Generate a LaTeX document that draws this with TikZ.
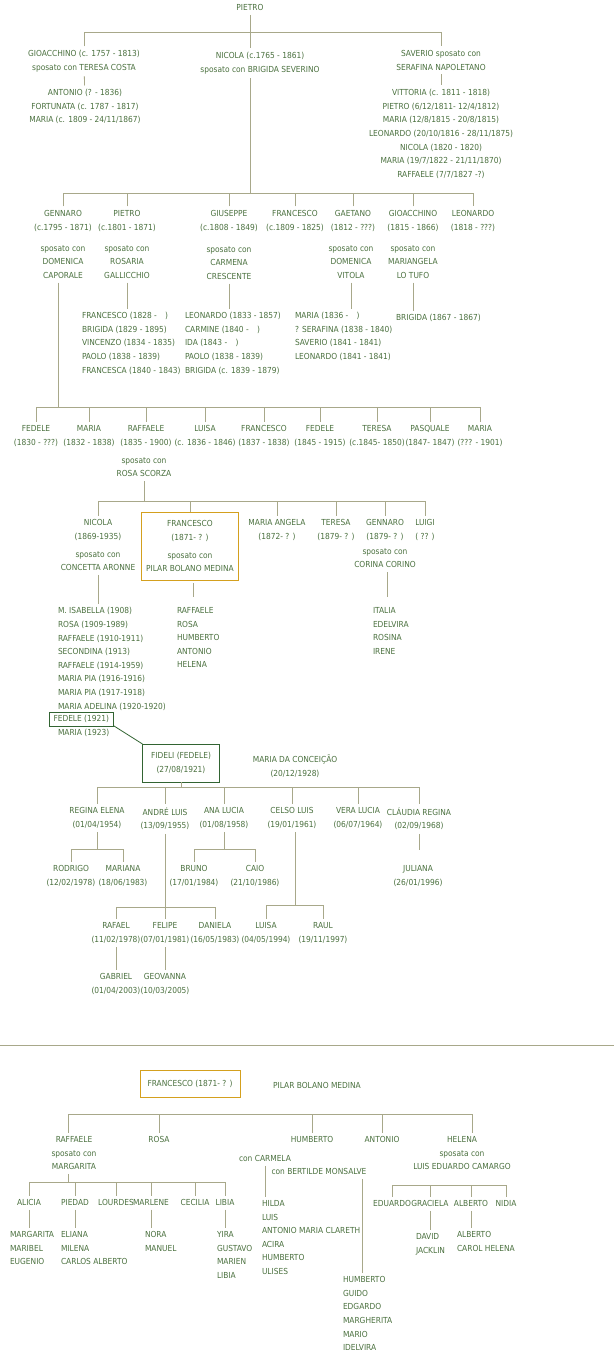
\documentclass[tikz,border=0pt]{standalone}
\usepackage{fontspec}
\setmainfont{DejaVu Sans Condensed}
\definecolor{inkgreen}{RGB}{74,112,62}
\definecolor{linkgrey}{RGB}{168,168,138}
\definecolor{goldbox}{RGB}{212,160,30}
\definecolor{darkbox}{RGB}{50,100,50}
\tikzset{
  txt/.style={align=center, inner sep=0pt, outer sep=4pt, text=inkgreen, font=\fontsize{8.3}{13.6}\selectfont},
  person/.style={txt, anchor=north, yshift=7.5pt},
  kids/.style={person, anchor=north west, align=left},
  link/.style={draw=linkgrey, line width=0.8pt}
}
\begin{document}
\begin{tikzpicture}[x=1pt,y=-1pt]
\useasboundingbox (0,0) rectangle (614,1356);
% first generations
\node[person] (pietro) at (250,8) {PIETRO};
\node[person] (gioacchino) at (84,54) {GIOACCHINO (c. 1757 - 1813)\\sposato con TERESA COSTA};
\node[person] (nicola) at (260,56) {NICOLA (c.1765 - 1861)\\sposato con BRIGIDA SEVERINO};
\node[person] (saverio) at (441,54) {SAVERIO sposato con\\SERAFINA NAPOLETANO};
\node[person] (gioacchinoKids) at (85,93) {ANTONIO (? - 1836)\\FORTUNATA (c. 1787 - 1817)\\MARIA (c. 1809 - 24/11/1867)};
\node[person] (saverioKids) at (441,93) {VITTORIA (c. 1811 - 1818)\\PIETRO (6/12/1811- 12/4/1812)\\MARIA (12/8/1815 - 20/8/1815)\\LEONARDO (20/10/1816 - 28/11/1875)\\NICOLA (1820 - 1820)\\MARIA (19/7/1822 - 21/11/1870)\\RAFFAELE (7/7/1827 -?)};
\draw[link] (pietro) -- (pietro|-0,32);
\draw[link] (gioacchino) -- (gioacchino|-0,32) -| (saverio);
\draw[link] (pietro|-0,32) -- (pietro|-nicola.north);
\draw[link] (gioacchino) -- (gioacchinoKids);
\draw[link] (saverio) -- (saverioKids);
% children of Nicola
\node[person] (gennaro) at (63,214) {GENNARO\\(c.1795 - 1871)};
\node[person] (pietroB) at (127,214) {PIETRO\\(c.1801 - 1871)};
\node[person] (giuseppe) at (229,214) {GIUSEPPE\\(c.1808 - 1849)};
\node[person] (francescoB) at (295,214) {FRANCESCO\\(c.1809 - 1825)};
\node[person] (gaetano) at (353,214) {GAETANO\\(1812 - ???)};
\node[person] (gioacchinoB) at (413,214) {GIOACCHINO\\(1815 - 1866)};
\node[person] (leonardoB) at (473,214) {LEONARDO\\(1818 - ???)};
\node[person] (gennaroW) at (63,249) {sposato con\\DOMENICA\\CAPORALE};
\node[person] (pietroW) at (127,249) {sposato con\\ROSARIA\\GALLICCHIO};
\node[person] (giuseppeW) at (229,250) {sposato con\\CARMENA\\CRESCENTE};
\node[person] (gaetanoW) at (351,249) {sposato con\\DOMENICA\\VITOLA};
\node[person] (gioacchinoW) at (413,249) {sposato con\\MARIANGELA\\LO TUFO};
\node[kids] (pietroKids) at (78,316) {FRANCESCO (1828 -\quad)\\BRIGIDA (1829 - 1895)\\VINCENZO (1834 - 1835)\\PAOLO (1838 - 1839)\\FRANCESCA (1840 - 1843)};
\node[kids] (giuseppeKids) at (181,316) {LEONARDO (1833 - 1857)\\CARMINE (1840 -\quad)\\IDA (1843 -\quad)\\PAOLO (1838 - 1839)\\BRIGIDA (c. 1839 - 1879)};
\node[kids] (gaetanoKids) at (291,316) {MARIA (1836 -\quad)\\? SERAFINA (1838 - 1840)\\SAVERIO (1841 - 1841)\\LEONARDO (1841 - 1841)};
\node[kids] (gioacchinoKidsB) at (392,318) {BRIGIDA (1867 - 1867)};
\draw[link] (pietro|-nicola.south) -- (pietro|-0,193);
\draw[link] (gennaro) -- (gennaro|-0,193) -| (leonardoB);
\foreach \c in {pietroB,giuseppe,francescoB,gaetano,gioacchinoB} \draw[link] (\c) -- (\c|-0,193);
\foreach \c/\k in {pietroW/pietroKids,giuseppeW/giuseppeKids,gaetanoW/gaetanoKids,gioacchinoW/gioacchinoKidsB} \draw[link] (\c) -- (\c|-\k.north);
% children of Gennaro
\node[person] (fedeleA) at (36,429) {FEDELE\\(1830 - ???)};
\node[person] (mariaA) at (89,429) {MARIA\\(1832 - 1838)};
\node[person] (raffaeleA) at (146,429) {RAFFAELE\\(1835 - 1900)};
\node[person] (luisaA) at (205,429) {LUISA\\(c. 1836 - 1846)};
\node[person] (francescoA) at (264,429) {FRANCESCO\\(1837 - 1838)};
\node[person] (fedeleB) at (320,429) {FEDELE\\(1845 - 1915)};
\node[person] (teresaA) at (377,429) {TERESA\\(c.1845- 1850)};
\node[person] (pasquale) at (430,429) {PASQUALE\\(1847- 1847)};
\node[person] (mariaZ) at (480,429) {MARIA\\(??? - 1901)};
\node[person] (raffaeleW) at (144,461) {sposato con\\ROSA SCORZA};
\draw[link] (gennaroW.south-|58,0) -- (58,407);
\draw[link] (fedeleA) -- (fedeleA|-0,407) -| (mariaZ);
\foreach \c in {mariaA,raffaeleA,luisaA,francescoA,fedeleB,teresaA,pasquale} \draw[link] (\c) -- (\c|-0,407);
% children of Raffaele
\node[person] (nicolaC) at (98,523) {NICOLA\\(1869-1935)\\[4.4pt]sposato con\\CONCETTA ARONNE};
\node[txt, draw=goldbox, outer sep=0pt, minimum width=97pt, minimum height=68pt] (francescoC) at (190,546) {FRANCESCO\\(1871- ? )\\[4.4pt]sposato con\\PILAR BOLANO MEDINA};
\node[person] (mariaAngela) at (277,523) {MARIA ANGELA\\(1872- ? )};
\node[person] (teresaC) at (336,523) {TERESA\\(1879- ? )};
\node[person] (gennaroC) at (385,523) {GENNARO\\(1879- ? )\\[1.5pt]sposato con\\CORINA CORINO};
\node[person] (luigi) at (425,523) {LUIGI\\( ?? )};
\draw[link] (raffaeleW) -- (raffaeleW|-0,501);
\draw[link] (nicolaC) -- (nicolaC|-0,501) -| (luigi);
\foreach \c in {francescoC,mariaAngela,teresaC,gennaroC} \draw[link] (\c.north) -- (\c|-0,501);
\node[kids] (nicolaKids) at (54,611) {M. ISABELLA (1908)\\ROSA (1909-1989)\\RAFFAELE (1910-1911)\\SECONDINA (1913)\\RAFFAELE (1914-1959)\\MARIA PIA (1916-1916)\\MARIA PIA (1917-1918)\\MARIA ADELINA (1920-1920)};
\node[txt, anchor=west, draw=darkbox, inner xsep=4.5pt, inner ysep=3pt, outer sep=0pt] (fedeleC) at (49,719) {FEDELE (1921)};
\node[kids] (mariaC) at (54,733) {MARIA (1923)};
\node[kids] (francescoKids) at (173,611) {RAFFAELE\\ROSA\\HUMBERTO\\ANTONIO\\HELENA};
\node[kids] (gennaroKids) at (369,611) {ITALIA\\EDELVIRA\\ROSINA\\IRENE};
\draw[link] (nicolaC) -- (nicolaC|-nicolaKids.north);
\draw[link] (francescoC.south-|193,0) ++(0,3) -- (193,597);
\draw[link] (gennaroC.south-|387,0) -- (387,597);
% Fideli
\node[txt, draw=darkbox, outer sep=0pt, minimum width=77pt, minimum height=38pt] (fideli) at (181,763) {FIDELI (FEDELE)\\(27/08/1921)};
\node[txt] (conceicao) at (295,766) {MARIA DA CONCEIÇÃO\\(20/12/1928)};
\draw[darkbox, line width=0.8pt] (fedeleC.south east) -- (fideli.north west);
\node[person] (regina) at (97,811) {REGINA ELENA\\(01/04/1954)};
\node[person] (andre) at (165,811) {ANDRÉ LUIS\\(13/09/1955)};
\node[person] (ana) at (224,811) {ANA LUCIA\\(01/08/1958)};
\node[person] (celso) at (292,811) {CELSO LUIS\\(19/01/1961)};
\node[person] (vera) at (358,811) {VERA LUCIA\\(06/07/1964)};
\node[person] (claudia) at (419,811) {CLÁUDIA REGINA\\(02/09/1968)};
\draw[link] (regina) -- (regina|-0,787) -| (claudia);
\foreach \c in {andre,ana,celso,vera} \draw[link] (\c) -- (\c|-0,787);
\draw[link] (fideli.south) -- (fideli|-0,787);
\node[person] (rodrigo) at (71,869) {RODRIGO\\(12/02/1978)};
\node[person] (mariana) at (123,869) {MARIANA\\(18/06/1983)};
\node[person] (bruno) at (194,869) {BRUNO\\(17/01/1984)};
\node[person] (caio) at (255,869) {CAIO\\(21/10/1986)};
\node[person] (juliana) at (418,869) {JULIANA\\(26/01/1996)};
\draw[link] (regina) -- (regina|-0,849);
\draw[link] (rodrigo) -- (rodrigo|-0,849) -| (mariana);
\draw[link] (ana) -- (ana|-0,849);
\draw[link] (bruno) -- (bruno|-0,849) -| (caio);
\draw[link] (claudia) -- (claudia|-0,850);
\node[person] (rafael) at (116,926) {RAFAEL\\(11/02/1978)};
\node[person] (felipe) at (165,926) {FELIPE\\(07/01/1981)};
\node[person] (daniela) at (215,926) {DANIELA\\(16/05/1983)};
\node[person] (luisaE) at (266,926) {LUISA\\(04/05/1994)};
\node[person] (raul) at (323,926) {RAUL\\(19/11/1997)};
\draw[link] (andre) -- (andre|-0,907);
\draw[link] (rafael) -- (rafael|-0,907) -| (daniela);
\draw[link] (felipe) -- (felipe|-0,907);
\draw[link] (celso.south-|295,0) -- (295,905);
\draw[link] (luisaE) -- (luisaE|-0,905) -| (raul);
\node[person] (gabriel) at (116,977) {GABRIEL\\(01/04/2003)};
\node[person] (geovanna) at (165,977) {GEOVANNA\\(10/03/2005)};
\draw[link] (rafael) -- (gabriel);
\draw[link] (felipe) -- (geovanna);
% second tree
\draw[link] (0,1045) -- (614,1045);
\node[txt, draw=goldbox, outer sep=0pt, minimum width=100pt, minimum height=27pt] (franBox) at (190,1084) {FRANCESCO (1871- ? )};
\node[txt] (pilar) at (317,1085) {PILAR BOLANO MEDINA};
\node[person] (raffaeleD) at (74,1140) {RAFFAELE\\sposato con\\MARGARITA};
\node[person] (rosaD) at (159,1140) {ROSA};
\node[person] (humbertoD) at (312,1140) {HUMBERTO};
\node[person] (antonioD) at (382,1140) {ANTONIO};
\node[person] (helenaD) at (462,1140) {HELENA\\sposata con\\LUIS EDUARDO CAMARGO};
\node[person] (carmela) at (265,1159) {con CARMELA};
\node[person] (bertilde) at (319,1172) {con BERTILDE MONSALVE};
\draw[link] (raffaeleD.north-|68,0) -- (68,1114) -| (helenaD.north-|472,0);
\foreach \c in {rosaD,humbertoD,antonioD} \draw[link] (\c) -- (\c|-0,1114);
\node[person] (alicia) at (29,1203) {ALICIA};
\node[person] (piedad) at (75,1203) {PIEDAD};
\node[person] (lourdes) at (116,1203) {LOURDES};
\node[person] (marlene) at (151,1203) {MARLENE};
\node[person] (cecilia) at (195,1203) {CECILIA};
\node[person] (libia) at (225,1203) {LIBIA};
\draw[link] (raffaeleD.south-|68,0) -- (68,1182);
\draw[link] (alicia) -- (alicia|-0,1182) -| (libia);
\foreach \c in {piedad,lourdes,marlene,cecilia} \draw[link] (\c) -- (\c|-0,1182);
\node[kids] (aliciaKids) at (6,1235) {MARGARITA\\MARIBEL\\EUGENIO};
\node[kids] (piedadKids) at (57,1235) {ELIANA\\MILENA\\CARLOS ALBERTO};
\node[kids] (marleneKids) at (141,1235) {NORA\\MANUEL};
\node[kids] (libiaKids) at (213,1235) {YIRA\\GUSTAVO\\MARIEN\\LIBIA};
\foreach \c/\k in {alicia/aliciaKids,piedad/piedadKids,marlene/marleneKids,libia/libiaKids} \draw[link] (\c) -- (\c|-\k.north);
\node[kids] (carmelaKids) at (258,1204) {HILDA\\LUIS\\ANTONIO MARIA CLARETH\\ACIRA\\HUMBERTO\\ULISES};
\node[kids] (bertildeKids) at (339,1280) {HUMBERTO\\GUIDO\\EDGARDO\\MARGHERITA\\MARIO\\IDELVIRA};
\draw[link] (carmela) -- (carmela|-carmelaKids.north);
\draw[link] (bertilde.south-|362,0) -- (bertildeKids.north-|362,0);
\node[person] (eduardo) at (392,1204) {EDUARDO};
\node[person] (graciela) at (430,1204) {GRACIELA};
\node[person] (albertoH) at (471,1204) {ALBERTO};
\node[person] (nidia) at (506,1204) {NIDIA};
\draw[link] (eduardo) -- (eduardo|-0,1185) -| (nidia);
\foreach \c in {graciela,albertoH} \draw[link] (\c) -- (\c|-0,1185);
\node[kids] (gracielaKids) at (412,1237) {DAVID\\JACKLIN};
\node[kids] (albertoKids) at (453,1235) {ALBERTO\\CAROL HELENA};
\draw[link] (graciela) -- (graciela|-gracielaKids.north);
\draw[link] (albertoH) -- (albertoH|-albertoKids.north);
\end{tikzpicture}
\end{document}
